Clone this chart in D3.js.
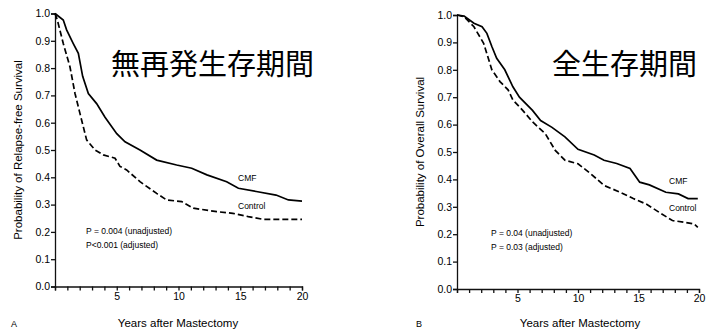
<!DOCTYPE html>
<html>
<head>
<meta charset="utf-8">
<script src="https://cdn.jsdelivr.net/npm/d3@7"></script>
<style>
  body { margin: 0; background: #fff; }
  svg { display: block; }
  text { font-family: "Liberation Sans", Arial, sans-serif; fill: #000; }
</style>
</head>
<body>
<svg id="chart" width="708" height="333"></svg>
<script>
// tick values
var yTicks = [0, 0.1, 0.2, 0.3, 0.4, 0.5, 0.6, 0.7, 0.8, 0.9, 1.0];
var xMinorTicks = d3.range(0, 21);
var xLabelTicks = [5, 10, 15, 20];

// panel A: relapse-free survival, [years, probability]
var rfsCmf = [[0,1],[0.67,0.976],[0.94,0.94],[1.48,0.89],[1.89,0.854],[2.24,0.77],[2.7,0.707],
  [3.37,0.67],[4.05,0.62],[5.0,0.56],[5.67,0.53],[6.88,0.5],[8.23,0.463],[9.85,0.445],
  [11.07,0.433],[12.3,0.409],[13.9,0.384],[14.85,0.36],[16.3,0.348],[17.9,0.335],[18.9,0.317],[20,0.313]];
var rfsControl = [[0,1],[0.19,0.976],[0.67,0.89],[1.21,0.805],[1.62,0.707],[2.02,0.634],[2.56,0.537],
  [3.24,0.5],[3.91,0.482],[4.86,0.47],[5.26,0.44],[5.8,0.427],[6.88,0.384],[8.23,0.341],[9.04,0.317],
  [10.26,0.311],[11.2,0.287],[13.1,0.274],[14.4,0.268],[15.65,0.256],[16.87,0.246],[20,0.246]];

// panel B: overall survival
var osCmf = [[0,1],[0.59,0.996],[1.4,0.97],[2.07,0.957],[2.47,0.933],[2.88,0.885],[3.28,0.842],
  [3.95,0.8],[4.62,0.738],[5.16,0.7],[6.24,0.652],[6.91,0.615],[7.85,0.59],[8.92,0.555],[10.0,0.51],
  [11.34,0.489],[12.15,0.47],[13.2,0.458],[14.3,0.44],[15.1,0.39],[15.9,0.38],[17.26,0.353],
  [18.3,0.347],[19.1,0.33],[19.9,0.33]];
var osControl = [[0,1],[0.59,0.994],[1.4,0.957],[2.2,0.897],[2.88,0.8],[3.55,0.757],[4.22,0.727],
  [4.62,0.69],[5.43,0.652],[6.24,0.61],[7.31,0.566],[8.12,0.506],[8.92,0.47],[10.0,0.457],
  [11.07,0.42],[12.15,0.378],[13.5,0.353],[14.57,0.33],[15.64,0.31],[16.7,0.28],[17.8,0.25],
  [18.87,0.243],[19.6,0.237],[19.9,0.225]];

var svg = d3.select("#chart");

function drawPanel(p) {
  var x = d3.scaleLinear().domain([0, 20]).range([p.x0, p.x1]);
  var y = d3.scaleLinear().domain([0, 1]).range([p.yb, p.yt]);
  var g = svg.append("g");

  // y axis
  var ya = g.append("g").attr("transform", "translate(" + p.x0 + ",0)")
    .call(d3.axisLeft(y).tickValues(yTicks).tickFormat(d3.format(".1f")).tickSize(4).tickPadding(1));
  ya.selectAll("text").style("font-size", "10.5px").style("font-family", "Liberation Sans, Arial, sans-serif");

  // x axis: minor ticks every year, labels at 5s
  var xa = g.append("g").attr("transform", "translate(0," + p.yb + ")")
    .call(d3.axisBottom(x).tickValues(xMinorTicks).tickSize(4)
      .tickFormat(function (d) { return xLabelTicks.indexOf(d) >= 0 ? d : ""; }).tickPadding(2));
  xa.selectAll("text").style("font-size", "10.5px").style("font-family", "Liberation Sans, Arial, sans-serif");
  g.selectAll(".domain, .tick line").attr("stroke", "#111").attr("stroke-width", 1.3);

  var line = d3.line()
    .x(function (d) { return x(d[0]); })
    .y(function (d) { return y(d[1]); });

  g.append("path").datum(p.cmf).attr("d", line)
    .attr("fill", "none").attr("stroke", "#000").attr("stroke-width", 1.7);
  g.append("path").datum(p.control).attr("d", line)
    .attr("fill", "none").attr("stroke", "#000").attr("stroke-width", 1.7)
    .attr("stroke-dasharray", "6,3");

  // series labels
  g.append("text").attr("x", p.labelX).attr("y", y(0.385)).style("font-size", "8.5px").text("CMF");
  g.append("text").attr("x", p.labelX).attr("y", y(0.285)).style("font-size", "8.5px").text("Control");

  // p values
  g.append("text").attr("x", p.pX).attr("y", y(0.2) + 2).style("font-size", "8.5px").text(p.p1);
  g.append("text").attr("x", p.pX).attr("y", y(0.15) + 2).style("font-size", "8.5px").text(p.p2);

  // axis titles
  g.append("text")
    .attr("transform", "translate(" + p.yTitleX + "," + ((p.yt + p.yb) / 2) + ") rotate(-90)")
    .attr("text-anchor", "middle").attr("dominant-baseline", "central")
    .style("font-size", "11.5px").text(p.yTitle);
  g.append("text").attr("x", p.xTitleX).attr("y", 327)
    .attr("text-anchor", "middle").style("font-size", "11.5px").text("Years after Mastectomy");
  g.append("text").attr("x", p.letterX).attr("y", 327).style("font-size", "9px").text(p.letter);

  // japanese title
  g.append("text").attr("x", p.jpX).attr("y", 62)
    .attr("dominant-baseline", "central")
    .style("font-family", "'Noto Sans CJK JP', sans-serif").style("font-size", "29px")
    .text(p.jp);
}

drawPanel({
  x0: 55, x1: 302, yt: 13.5, yb: 286.5,
  cmf: rfsCmf, control: rfsControl,
  labelX: 238, pX: 86,
  p1: "P = 0.004 (unadjusted)", p2: "P<0.001 (adjusted)",
  yTitle: "Probability of Relapse-free Survival", yTitleX: 18,
  xTitleX: 178,
  letter: "A", letterX: 11,
  jp: "無再発生存期間", jpX: 111
});

drawPanel({
  x0: 457, x1: 699, yt: 15, yb: 289,
  cmf: osCmf, control: osControl,
  labelX: 669, pX: 491,
  p1: "P = 0.04 (unadjusted)", p2: "P = 0.03 (adjusted)",
  yTitle: "Probability of Overall Survival", yTitleX: 420,
  xTitleX: 580,
  letter: "B", letterX: 416,
  jp: "全生存期間", jpX: 552
});
</script>
</body>
</html>
